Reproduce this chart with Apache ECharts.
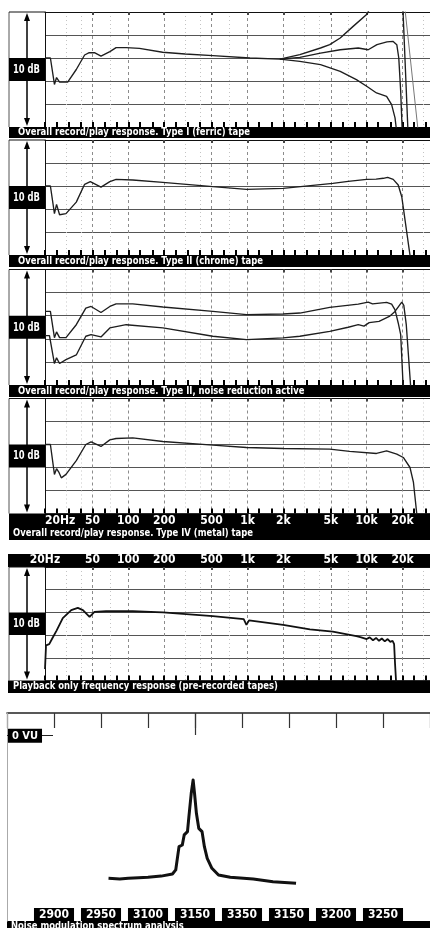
<!DOCTYPE html>
<html>
<head>
<meta charset="utf-8">
<script src="https://cdn.jsdelivr.net/npm/echarts@6/dist/echarts.min.js"></script>
<style>
html, body { margin: 0; padding: 0; background: #fff; }
#main { width: 430px; height: 928px; }
</style>
</head>
<body>
<div id="main"></div>
<script>
// frequency grid of the chart paper
var MAJOR_FREQS = [50, 100, 200, 500, 1000, 2000, 5000, 10000, 20000];
var MINOR_FREQS = [30, 40, 70, 300, 400, 700, 3000, 4000, 7000, 30000];
var THIRD_OCTAVE = [20, 25, 31.5, 40, 50, 63, 80, 100, 125, 160, 200, 250, 315, 400, 500, 630, 800,
  1000, 1250, 1600, 2000, 2500, 3150, 4000, 5000, 6300, 8000, 10000, 12500, 16000, 20000, 25000, 31500];
var LABEL_FREQS = [20, 50, 100, 200, 500, 1000, 2000, 5000, 10000, 20000];
var LABEL_TEXT = ['20Hz', '50', '100', '200', '500', '1k', '2k', '5k', '10k', '20k'];

// Type I (ferric): [Hz, dB]
var ferricMid = [[20,0],[22.2,0],[24,-2.3],[25,-1.7],[26.5,-2.1],[31,-2.1],[36.6,-1.0],[43,0.26],[47,0.46],
  [52,0.46],[59,0.17],[70,0.55],[79,0.9],[96,0.9],[124,0.84],[194,0.5],[300,0.35],[512,0.2],[1050,0],
  [1870,-0.1],[2750,0.06],[4100,0.43],[6000,0.72],[8500,0.87],[10300,0.72],[12200,1.16],[14800,1.4],
  [16600,1.45],[17900,1.16],[18600,0],[19300,-2.9],[19900,-6.5]];
var ferricHigh = [[1870,-0.1],[2750,0.3],[4100,0.87],[4900,1.16],[6000,1.74],[7700,2.75],[10100,3.83],
  [12000,5.5],[18000,8],[20200,4],[22200,-6.3]];
var ferricLow = [[1870,-0.1],[2750,-0.29],[4100,-0.58],[6000,-1.16],[8200,-1.88],[10000,-2.46],
  [12100,-3.04],[14700,-3.33],[16200,-4.06],[17300,-5.2],[17900,-6.5]];
var ferricReturn = [[21000,4.2],[27000,-6.3]];

// Type II (chrome)
var chromeData = [[20,0],[22.2,0],[24,-2.4],[25,-1.6],[26.5,-2.5],[30,-2.4],[36.6,-1.4],[43,0.15],[48,0.38],
  [59,-0.1],[70,0.38],[79,0.58],[109,0.52],[195,0.32],[512,-0.06],[982,-0.29],[1990,-0.2],[5200,0.23],
  [7000,0.4],[10000,0.58],[12000,0.6],[13800,0.67],[15000,0.75],[16700,0.58],[18400,0.09],[19700,-0.93],[23300,-6.3]];

// Type II, noise reduction active
var nrUpper = [[20,0.37],[22.2,0.37],[24,-1.9],[25,-1.4],[26.5,-1.9],[30,-1.9],[36.6,-0.78],[44,0.66],[48.7,0.8],
  [59,0.28],[70,0.8],[79,1.03],[109,1.03],[195,0.75],[512,0.37],[982,0.09],[1990,0.15],[2750,0.23],[4900,0.72],
  [8500,1.0],[10300,1.18],[11200,1.03],[14700,1.15],[16200,1.0],[17300,0.5],[18400,-0.63],[19300,-1.64],[20300,-6.4]];
var nrLower = [[20,-1.72],[21.8,-1.72],[24,-4.14],[25,-3.65],[26.5,-4.14],[30,-3.8],[36.6,-3.4],[44,-1.78],
  [48.7,-1.64],[59,-1.84],[70,-1.06],[96,-0.78],[195,-1.06],[512,-1.78],[982,-2.07],[1990,-1.92],[2750,-1.78],
  [4900,-1.35],[7000,-1.0],[8500,-0.78],[9500,-0.9],[10500,-0.6],[12700,-0.49],[15500,-0.06],[17300,0.37],
  [19700,1.18],[20500,0.89],[21500,-0.78],[23500,-6.4]];

// Type IV (metal)
var metalData = [[20,0],[22.2,0],[24,-2.6],[25,-2.1],[26.1,-2.4],[27.4,-2.9],[30,-2.6],[36.6,-1.4],[44,0],
  [48.7,0.23],[59,-0.17],[70,0.4],[79,0.52],[109,0.57],[195,0.26],[512,-0.06],[982,-0.26],[1990,-0.35],
  [4900,-0.4],[7200,-0.6],[12100,-0.78],[14700,-0.55],[17900,-0.84],[20300,-1.13],[23100,-2.0],[24700,-3.3],[26500,-6.3]];

// playback only (pre-recorded tapes)
var playbackData = [[20,-5.0],[20.4,-2.9],[21.7,-2.8],[23,-2.3],[25,-1.6],[28.2,-0.5],[33.2,0.2],[37.7,0.4],
  [41.6,0.2],[47.3,-0.4],[52,0.05],[65,0.1],[109,0.1],[195,0],[512,-0.32],[930,-0.6],[980,-1.1],[1030,-0.7],
  [1990,-1.1],[3340,-1.5],[5200,-1.7],[8200,-2.1],[9000,-2.2],[10000,-2.35],[10600,-2.2],[11300,-2.45],
  [12000,-2.25],[12700,-2.5],[13400,-2.3],[14200,-2.55],[15000,-2.35],[15800,-2.6],[16500,-2.5],[17000,-2.8],
  [17300,-4.5],[17700,-6.3]];

// noise modulation spectrum: x = position of label slot, y = dB re 0 VU
var SPECTRUM_LABELS = ['2900', '2950', '3100', '3150', '3350', '3150', '3200', '3250'];
var spectrumData = [[1.16,-69.3],[1.4,-69.6],[1.58,-69.3],[1.8,-69.0],[2.0,-68.8],[2.28,-68.2],[2.52,-67.2],
  [2.59,-65.2],[2.66,-53.9],[2.73,-53.1],[2.77,-48.2],[2.84,-46.6],[2.87,-39.4],[2.92,-28.0],[2.96,-21.5],
  [2.99,-28.0],[3.03,-37.7],[3.08,-45.0],[3.15,-46.6],[3.20,-53.9],[3.26,-59.6],[3.36,-64.4],[3.50,-67.7],
  [3.75,-68.8],[4.24,-69.6],[4.66,-70.9],[5.15,-71.7]];

var FONT = '"Liberation Sans Narrow","DejaVu Sans Condensed",sans-serif';
var measureCtx = document.createElement('canvas').getContext('2d');
function textWidth(str, font) { measureCtx.font = font; return measureCtx.measureText(str).width; }

var TITLE_FONT = 'bold 11px ' + FONT;
var titleScale = 232 / textWidth('Overall record/play response. Type I (ferric) tape', TITLE_FONT);

var grids = [], xAxes = [], yAxes = [], series = [], graphics = [];

function labelFor(v) {
  for (var i = 0; i < LABEL_FREQS.length; i++) {
    if (Math.abs(v - LABEL_FREQS[i]) / LABEL_FREQS[i] < 0.01) return LABEL_TEXT[i];
  }
  return '';
}

function bar(x, y, w, h) {
  graphics.push({ type: 'rect', z: 1, shape: { x: x, y: y, width: w, height: h }, style: { fill: '#000' } });
}
function barText(str, x, y) {
  graphics.push({ type: 'text', z: 1, z2: 5, x: x, y: y, scaleX: titleScale,
    style: { text: str, font: TITLE_FONT, fill: '#fff', align: 'left', verticalAlign: 'middle' } });
}

function addFreqPanel(top, height, curves, labelPos) {
  var g = grids.length;
  grids.push({ left: 45, width: 385, top: top, height: height });
  var dataAxis = xAxes.length;
  xAxes.push({ type: 'log', gridIndex: g, min: 20, max: 34000, position: 'top',
    axisLine: { show: true, onZero: false, lineStyle: { color: '#111', width: 1 } },
    axisTick: { show: true, inside: true, length: 3, customValues: MAJOR_FREQS, lineStyle: { color: '#444', width: 2 } },
    axisLabel: { show: false },
    splitLine: { show: true, lineStyle: { color: '#8c8c8c', width: 1, type: [3, 3] } } });
  xAxes.push({ type: 'log', gridIndex: g, min: 20, max: 34000, position: 'top',
    axisLine: { show: false, onZero: false },
    axisTick: { show: false, customValues: MINOR_FREQS },
    axisLabel: { show: false },
    splitLine: { show: true, lineStyle: { color: '#c4c4c4', width: 1, type: [1, 3] } } });
  xAxes.push({ type: 'log', gridIndex: g, min: 20, max: 34000, position: 'bottom',
    axisLine: { show: false, onZero: false },
    axisTick: { show: true, inside: true, length: 5, customValues: THIRD_OCTAVE, lineStyle: { color: '#000', width: 2 } },
    axisLabel: { show: false },
    splitLine: { show: false } });
  if (labelPos) {
    xAxes.push({ type: 'log', gridIndex: g, min: 20, max: 34000, position: labelPos, z: 10,
      axisLine: { show: false, onZero: false }, axisTick: { show: false },
      axisLabel: { show: true, customValues: LABEL_FREQS, formatter: labelFor, margin: 1,
        color: '#fff', fontSize: 12, fontWeight: 'bold', fontFamily: FONT,
        alignMinLabel: labelPos === 'bottom' ? 'left' : 'center' },
      splitLine: { show: false } });
  }
  yAxes.push({ type: 'value', gridIndex: g, min: -6, max: 4, interval: 2,
    axisLine: { show: true, onZero: false, lineStyle: { color: '#111', width: 1 } },
    axisTick: { show: false }, axisLabel: { show: false },
    splitLine: { show: true, lineStyle: { color: '#555', width: 1.1 } } });
  curves.forEach(function (c) {
    series.push({ type: 'line', xAxisIndex: dataAxis, yAxisIndex: g, data: c.data, symbol: 'none', clip: true,
      silent: true, z: 3, lineStyle: { color: c.color || '#1e1e1e', width: c.width || 1.35 } });
  });

  // left column: frame, double arrow and the 10 dB box
  var step = height / 5, ax = 27;
  graphics.push({ type: 'line', z: 1, shape: { x1: 9, y1: top, x2: 9, y2: top + height }, style: { stroke: '#555', lineWidth: 1 } });
  graphics.push({ type: 'line', z: 1, shape: { x1: 9, y1: top, x2: 45, y2: top }, style: { stroke: '#111', lineWidth: 1 } });
  graphics.push({ type: 'line', z: 1, shape: { x1: ax, y1: top + 4, x2: ax, y2: top + height - 4 }, style: { stroke: '#000', lineWidth: 1.5 } });
  graphics.push({ type: 'polygon', z: 1, shape: { points: [[ax, top + 1], [ax - 3, top + 9], [ax + 3, top + 9]] }, style: { fill: '#000' } });
  graphics.push({ type: 'polygon', z: 1, shape: { points: [[ax, top + height - 1], [ax - 3, top + height - 9], [ax + 3, top + height - 9]] }, style: { fill: '#000' } });
  graphics.push({ type: 'rect', z: 1, z2: 3, shape: { x: 9, y: top + 2 * step, width: 36, height: step }, style: { fill: '#000' } });
  var dbFont = 'bold 13px ' + FONT;
  graphics.push({ type: 'text', z: 1, z2: 5, x: 13, y: top + 2.5 * step, scaleX: 27 / textWidth('10 dB', dbFont),
    style: { text: '10 dB', font: dbFont, fill: '#fff', align: 'left', verticalAlign: 'middle' } });
}

addFreqPanel(12, 115, [{ data: ferricMid }, { data: ferricHigh }, { data: ferricLow }, { data: ferricReturn, color: '#777', width: 1 }]);
bar(9, 127, 421, 11);
barText('Overall record/play response. Type I (ferric) tape', 18, 132.5);

addFreqPanel(140, 115, [{ data: chromeData }]);
bar(9, 255, 421, 12);
barText('Overall record/play response. Type II (chrome) tape', 18, 261);

addFreqPanel(269.5, 115.5, [{ data: nrUpper }, { data: nrLower }]);
bar(9, 385, 421, 12);
barText('Overall record/play response. Type II, noise reduction active', 18, 391);

addFreqPanel(398.5, 115, [{ data: metalData }], 'bottom');
bar(9, 513.5, 421, 26.5);
barText('Overall record/play response. Type IV (metal) tape', 13, 533.5);

bar(8, 554, 422, 13);
addFreqPanel(567, 113.5, [{ data: playbackData, color: '#111', width: 1.8 }], 'top');
bar(8, 680.5, 422, 12.5);
barText('Playback only frequency response (pre-recorded tapes)', 13, 686.5);

// noise modulation spectrum panel
var g6 = grids.length;
grids.push({ left: 7, width: 429, top: 713, height: 208 });
var spX = xAxes.length;
xAxes.push({ type: 'value', gridIndex: g6, min: -1, max: 8, interval: 1, position: 'bottom', z: 10,
  axisLine: { show: false, onZero: false }, axisTick: { show: false },
  axisLabel: { show: true, inside: true, margin: 0,
    customValues: SPECTRUM_LABELS.map(function (s, i) { return i; }),
    formatter: function (v) { return SPECTRUM_LABELS[v] || ''; },
    color: '#fff', backgroundColor: '#000', padding: [1, 5, 0, 5], fontSize: 12, fontWeight: 'bold', fontFamily: FONT },
  splitLine: { show: false } });
xAxes.push({ type: 'value', gridIndex: g6, min: -1, max: 8, interval: 1, position: 'top',
  axisLine: { show: true, onZero: false, lineStyle: { color: '#222', width: 1.5 } },
  axisTick: { show: true, inside: true, length: 15, lineStyle: { color: '#333', width: 1.2 } },
  axisLabel: { show: false }, splitLine: { show: false } });
xAxes.push({ type: 'value', gridIndex: g6, min: -1, max: 8, interval: 1, position: 'top',
  axisLine: { show: false, onZero: false },
  axisTick: { show: true, inside: true, length: 22, customValues: [3], lineStyle: { color: '#333', width: 1.2 } },
  axisLabel: { show: false }, splitLine: { show: false } });
yAxes.push({ type: 'value', gridIndex: g6, min: -90, max: 11, interval: 10, z: 10, position: 'left',
  axisLine: { show: true, onZero: false, lineStyle: { color: '#aaa', width: 1 } },
  axisTick: { show: true, inside: true, length: 46, customValues: [0], lineStyle: { color: '#222', width: 1 } },
  axisLabel: { show: true, inside: true, margin: 1, customValues: [0], formatter: function () { return '0 VU'; },
    color: '#fff', backgroundColor: '#000', padding: [2, 4, 1, 4], fontSize: 11, fontWeight: 'bold', fontFamily: FONT },
  splitLine: { show: false } });
series.push({ type: 'line', xAxisIndex: spX, yAxisIndex: g6, data: spectrumData, symbol: 'none', silent: true, z: 3,
  lineStyle: { color: '#111', width: 3, join: 'round' } });
bar(7, 921, 423, 10);
graphics.push({ type: 'text', z: 1, z2: 5, x: 11, y: 921, scaleX: titleScale,
  style: { text: 'Noise modulation spectrum analysis', font: TITLE_FONT, fill: '#fff', align: 'left', verticalAlign: 'top' } });

var myChart = echarts.init(document.getElementById('main'));
var option = {
  animation: false,
  backgroundColor: '#fff',
  textStyle: { fontFamily: FONT },
  grid: grids,
  xAxis: xAxes,
  yAxis: yAxes,
  series: series,
  graphic: { elements: graphics }
};
myChart.setOption(option);
</script>
</body>
</html>
